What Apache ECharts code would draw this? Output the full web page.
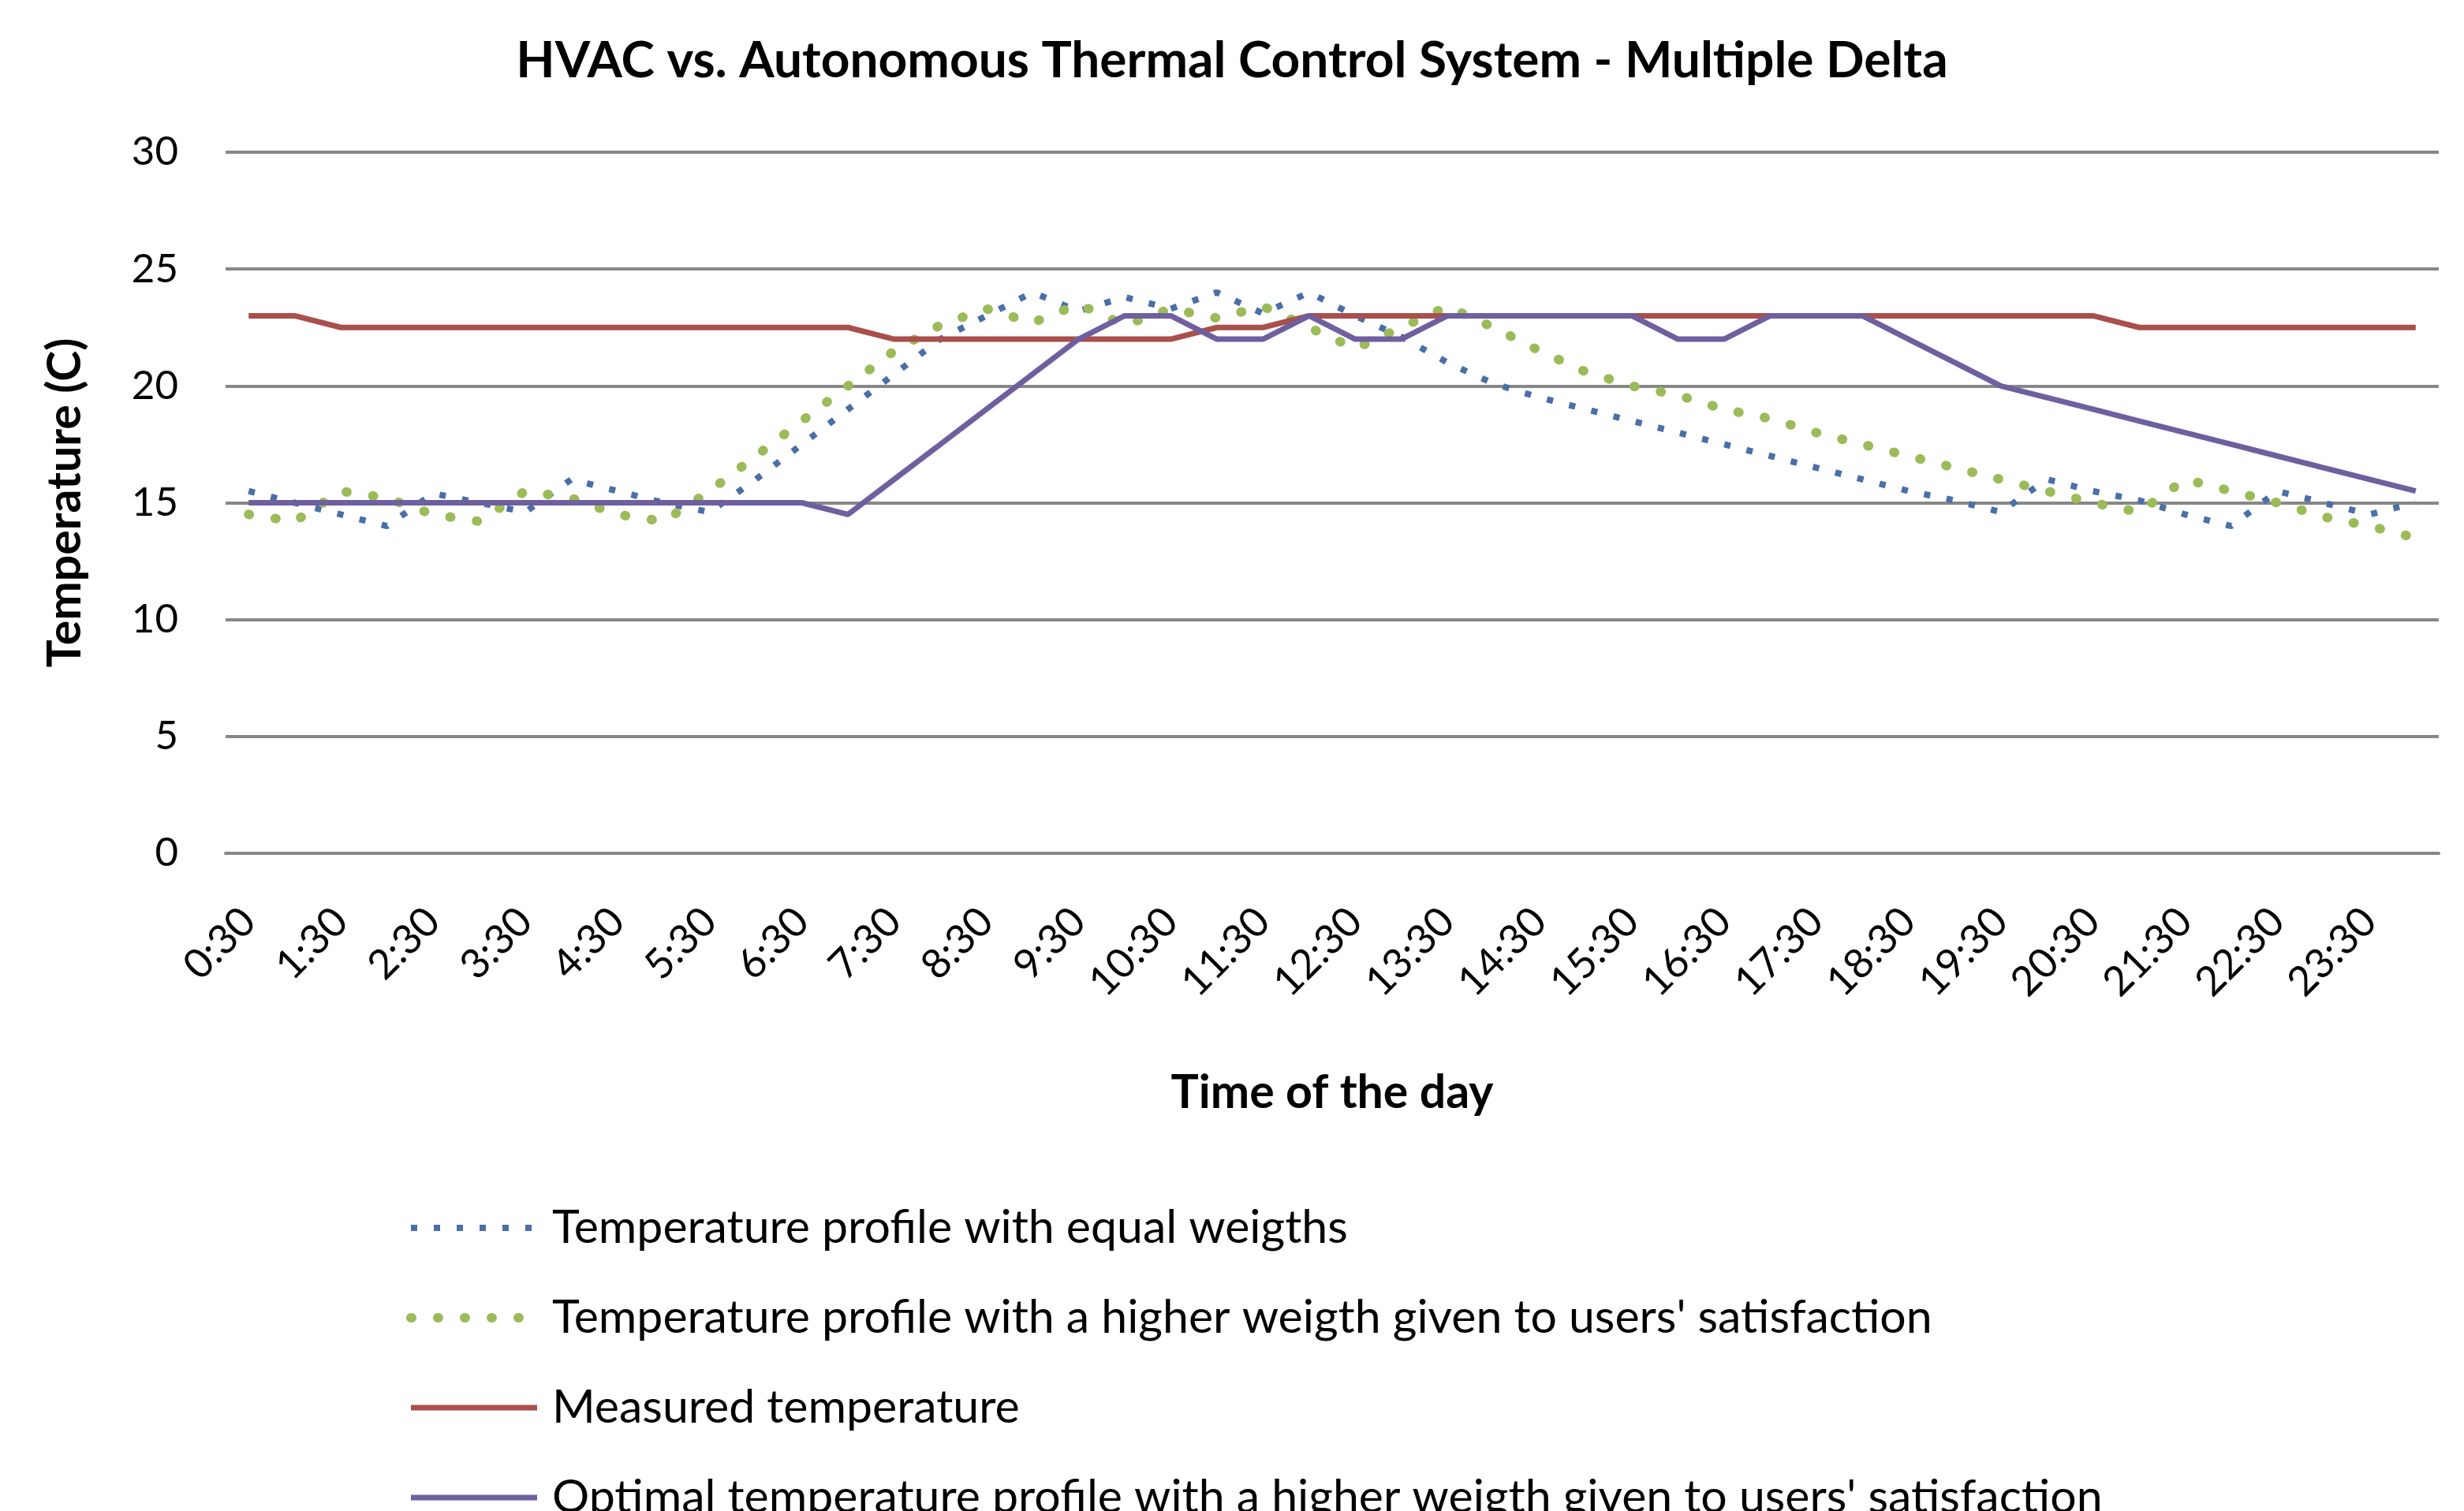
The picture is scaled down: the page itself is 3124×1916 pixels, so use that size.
<!DOCTYPE html>
<html>
<head>
<meta charset="utf-8">
<script src="https://cdn.jsdelivr.net/npm/echarts@6/dist/echarts.min.js"></script>
<style>
  html, body { margin: 0; padding: 0; background: #ffffff; }
  #chart { width: 3124px; height: 1916px; }
</style>
</head>
<body>
<div id="chart"></div>
<script>
const categories = ['0:30','1:00','1:30','2:00','2:30','3:00','3:30','4:00','4:30','5:00','5:30','6:00',
  '6:30','7:00','7:30','8:00','8:30','9:00','9:30','10:00','10:30','11:00','11:30','12:00',
  '12:30','13:00','13:30','14:00','14:30','15:00','15:30','16:00','16:30','17:00','17:30','18:00',
  '18:30','19:00','19:30','20:00','20:30','21:00','21:30','22:00','22:30','23:00','23:30','24:00'];

const equalWeights = [15.5,15.0,14.5,14.0,15.4,15.0,14.6,16.0,15.5,15.0,14.6,16.0,
  17.5,19.0,20.5,22.0,23.0,24.0,23.2,23.8,23.3,24.0,23.1,24.0,
  23.0,22.1,21.0,20.1,19.5,19.0,18.5,18.0,17.5,17.0,16.5,16.0,
  15.5,15.1,14.6,16.0,15.5,15.1,14.5,14.0,15.5,15.0,14.5,15.0];

const higherSatisfaction = [14.5,14.2,15.5,15.2,14.5,14.2,15.5,15.2,14.5,14.2,15.5,17.0,
  18.5,20.0,21.5,22.6,23.3,22.7,23.5,22.6,23.3,22.9,23.4,22.5,
  21.6,22.5,23.4,22.5,21.5,20.6,20.0,19.6,19.0,18.6,18.0,17.5,
  17.0,16.5,16.0,15.5,15.0,14.6,16.0,15.5,15.0,14.4,14.0,13.5];

const measured = [23,23,22.5,22.5,22.5,22.5,22.5,22.5,22.5,22.5,22.5,22.5,
  22.5,22.5,22,22,22,22,22,22,22,22.5,22.5,23,
  23,23,23,23,23,23,23,23,23,23,23,23,
  23,23,23,23,23,22.5,22.5,22.5,22.5,22.5,22.5,22.5];

const optimal = [15,15,15,15,15,15,15,15,15,15,15,15,
  15,14.5,16,17.5,19,20.5,22,23,23,22,22,23,
  22,22,23,23,23,23,23,22,22,23,23,23,
  22,21,20,19.5,19,18.5,18,17.5,17,16.5,16,15.5];

const yTicks = { min: 0, max: 30, interval: 5 };

const seriesNames = [
  'Temperature profile with equal weigths',
  "Temperature profile with a higher weigth given to users' satisfaction",
  'Measured temperature',
  "Optimal temperature profile with a higher weigth given to users' satisfaction"
];

const FONT = 'Lato';
const chart = echarts.init(document.getElementById('chart'));
chart.setOption({
  backgroundColor: '#ffffff',
  animation: false,
  title: {
    text: 'HVAC vs. Autonomous Thermal Control System - Multiple Delta',
    left: 'center',
    top: 40,
    textStyle: { fontFamily: FONT, fontWeight: 'bold', fontSize: 64, color: '#000' }
  },
  grid: { left: 286, right: 32, top: 193, bottom: 834, containLabel: false },
  xAxis: {
    type: 'category',
    data: categories,
    boundaryGap: true,
    axisLine: { lineStyle: { color: '#878787', width: 4 } },
    axisTick: { show: false },
    axisLabel: { interval: 1, rotate: 45, fontSize: 52, margin: 78, color: '#000', fontFamily: FONT },
    splitLine: { show: false },
    name: 'Time of the day',
    nameLocation: 'middle',
    nameGap: 274,
    nameTextStyle: { fontFamily: FONT, fontWeight: 'bold', fontSize: 59, color: '#000' }
  },
  yAxis: {
    type: 'value',
    min: yTicks.min, max: yTicks.max, interval: yTicks.interval,
    axisLine: { show: false },
    axisTick: { show: false },
    axisLabel: { fontSize: 51, margin: 60, color: '#000', fontFamily: FONT },
    splitLine: { lineStyle: { color: '#878787', width: 4 } },
    name: 'Temperature (C)',
    nameLocation: 'middle',
    nameGap: 174,
    nameTextStyle: { fontFamily: FONT, fontWeight: 'bold', fontSize: 59, color: '#000' }
  },
  legend: {
    orient: 'vertical',
    left: 510,
    top: 1517,
    height: 700,
    itemWidth: 160,
    itemHeight: 20,
    itemGap: 44,
    lineStyle: { width: 'inherit' },
    itemStyle: { opacity: 0, borderWidth: 0 },
    textStyle: { fontFamily: FONT, fontSize: 59, color: '#000', padding: [0, 0, 0, 14], lineHeight: 70 },
    data: seriesNames
  },
  series: [
    {
      name: seriesNames[0], type: 'line', data: equalWeights, symbol: 'none',
      lineStyle: { color: '#4a6fa8', width: 8, type: [8, 21], cap: 'butt' },
      itemStyle: { color: '#4a6fa8' }, z: 2
    },
    {
      name: seriesNames[1], type: 'line', data: higherSatisfaction, symbol: 'none',
      lineStyle: { color: '#9bbb59', width: 12, type: [1, 33], cap: 'round' },
      itemStyle: { color: '#9bbb59' }, z: 3
    },
    {
      name: seriesNames[2], type: 'line', data: measured, symbol: 'none',
      lineStyle: { color: '#a94f4c', width: 7 },
      itemStyle: { color: '#a94f4c' }, z: 4
    },
    {
      name: seriesNames[3], type: 'line', data: optimal, symbol: 'none',
      lineStyle: { color: '#6f5f9f', width: 7 },
      itemStyle: { color: '#6f5f9f' }, z: 5
    }
  ]
});
</script>
</body>
</html>
